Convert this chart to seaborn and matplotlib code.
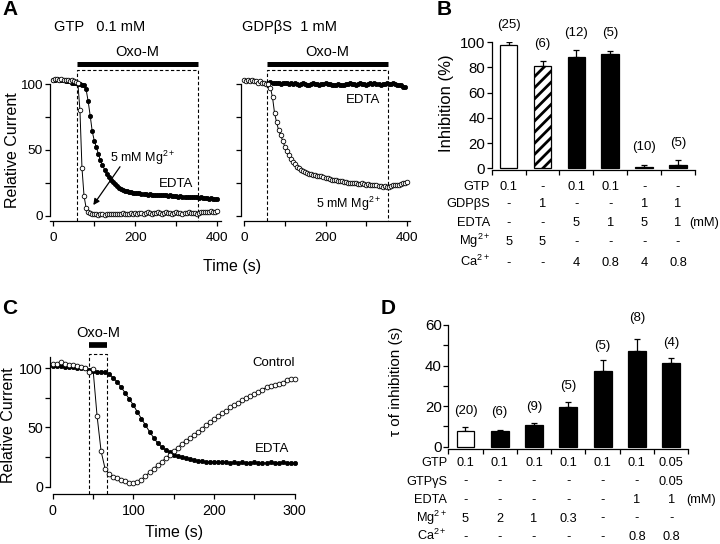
import numpy as np
import matplotlib
matplotlib.use('Agg')
import matplotlib.pyplot as plt
import matplotlib.transforms as mtransforms
import seaborn as sns

sns.set_style('ticks')
plt.rcParams['font.family'] = ['Liberation Sans', 'DejaVu Sans']
plt.rcParams['mathtext.fontset'] = 'custom'
plt.rcParams['mathtext.rm'] = 'Liberation Sans'
plt.rcParams['mathtext.it'] = 'Liberation Sans:italic'
plt.rcParams['mathtext.bf'] = 'Liberation Sans:bold'
plt.rcParams['hatch.linewidth'] = 2.0
plt.rcParams['axes.linewidth'] = 0.9
plt.rcParams['axes.edgecolor'] = 'black'
plt.rcParams['text.color'] = 'black'
plt.rcParams['xtick.color'] = 'black'
plt.rcParams['ytick.color'] = 'black'

# ---------------- data ----------------
# Panel A (time courses, relative current)
A_time = np.arange(0, 401, 5)
A_left_mg = [103, 104, 104, 103, 104, 103, 103, 103, 102, 103,
             102, 101.5, 100.5, 80, 36, 15, 6, 3, 2, 1,
             1, 1, 0.5, 1, 1, 0.5, 1, 1.5, 1, 1,
             1.5, 1, 1.5, 1, 2, 1.5, 1, 1.5, 2, 1.5,
             2, 1.5, 2, 2, 1.5, 2, 2.5, 2, 1.5, 2,
             2, 2.5, 2, 1.5, 2, 2.5, 2, 2, 1.5, 2,
             2.5, 2, 2, 1.5, 2, 2, 2.5, 2, 2, 2,
             1.5, 2, 2.5, 3, 2.5, 3, 3, 3.5, 3, 3,
             3.5]
A_left_edta = [103, 103, 104, 103, 103, 103, 102, 102, 102, 101,
               101, 100.5, 100, 100, 99.5, 99, 96, 87, 76, 64,
               57, 52, 47, 42, 38.5, 35, 32, 29.5, 27.5, 25.5,
               24, 22.5, 21, 20, 19.5, 19, 18.5, 18, 18, 17.5,
               17, 17, 17, 16.5, 16.5, 16.5, 16, 16.5, 16, 16,
               16, 15.5, 16, 15.5, 15.5, 15.5, 15, 15.5, 15, 15,
               15, 14.5, 15, 14.5, 14.5, 14.5, 14, 14.5, 14, 14,
               14, 13.5, 14, 13.5, 13.5, 13.5, 13, 13.5, 13, 13,
               12.5]
A_right_mg = [103, 102, 103, 102, 103, 102, 102, 101, 102, 101,
              101, 100, 100, 97, 90, 78, 71, 65, 61, 57,
              52.5, 49, 46, 43, 41, 39, 37, 36, 35, 34,
              33, 32.5, 32, 31.5, 31, 31, 30.5, 30, 30, 29.5,
              29, 28.5, 28, 27.5, 27, 27, 26.5, 26, 26, 25.5,
              25.5, 25, 25, 24.5, 25, 24.5, 24, 24, 24.5, 24,
              23.5, 24, 23.5, 23, 23, 23, 22.5, 22.5, 22, 22.5,
              22, 22, 22.5, 23, 23, 23.5, 23.5, 24, 24.5, 25,
              25.5]
A_right_edta_time = np.arange(60, 396, 5)
A_right_edta = [101, 101.5, 101, 100.5, 101, 100.5, 100, 100.5, 101, 100.5,
                100, 100.5, 100, 100.5, 100, 99.5, 100, 100.5, 100, 99.5,
                99.5, 100, 100.5, 100, 100, 99.5, 100, 100, 100.5, 100,
                100, 99.5, 99, 99.5, 100, 99.5, 99, 99.5, 100, 100,
                100.5, 100, 100, 99.5, 100, 100.5, 100, 100, 99.5, 100,
                100.5, 100, 100.5, 100, 100, 99.5, 100, 100, 100.5, 100,
                100, 100.5, 100, 99.5, 99.5, 99, 98, 97.5]
A_oxo = (57, 354)

# Panel B (inhibition %)
B_vals = [97.5, 81.5, 88.5, 90.5, 1, 3]
B_err = [2.5, 3.5, 5.5, 2.5, 2, 3.5]
B_n = ['(25)', '(6)', '(12)', '(5)', '(10)', '(5)']
B_n_y = [113.5, 99, 107, 107, 17, 20]
B_rows = ['GTP', 'GDPβS', 'EDTA', 'Mg$^{\\mathregular{2+}}$', 'Ca$^{\\mathregular{2+}}$']
B_table = [['0.1', '-', '0.1', '0.1', '-', '-'],
           ['-', '1', '-', '-', '1', '1'],
           ['-', '-', '5', '1', '5', '1'],
           ['5', '5', '-', '-', '-', '-'],
           ['-', '-', '4', '0.8', '4', '0.8']]

# Panel C (time course)
C_time = np.arange(0, 301, 5)
C_control = [104, 104, 105, 104, 103, 102.5, 102, 101, 100, 97,
             99.5, 60, 30, 15, 10.5, 8.5, 7.5, 6, 4.5, 3,
             3, 4, 6, 9, 12, 15, 18, 21, 24, 27,
             30, 33, 36, 39, 41, 44, 46, 49, 52, 55,
             57, 60, 62, 64, 67, 69, 71, 73, 75, 77,
             78, 80, 82, 84, 85, 86, 86.5, 88, 90, 91,
             91]
C_edta = [102, 102, 102, 101.5, 101, 101, 100.5, 100, 100, 99,
          97.5, 97, 97, 96.5, 95, 92, 88.5, 84, 79, 74,
          69, 63, 57.5, 52, 46.5, 41.5, 37, 33.5, 31, 29,
          27, 26, 25, 24, 23, 22.5, 22, 21.5, 21, 21,
          21, 20.5, 20.5, 20.5, 20, 20.5, 20, 20.5, 20, 20,
          20.5, 20, 20, 20, 20.5, 20, 20, 20.5, 20, 20,
          20]
C_oxo = (45.5, 67.5)

# Panel D (tau of inhibition)
D_vals = [7.8, 7.5, 10.5, 19.5, 37.5, 47, 41.5]
D_err = [1.8, 0.6, 1.1, 2.6, 5, 6, 2]
D_n = ['(20)', '(6)', '(9)', '(5)', '(5)', '(8)', '(4)']
D_n_y = [17.6, 17.3, 19.4, 29.9, 49.8, 63.3, 51.0]
D_rows = ['GTP', 'GTPγS', 'EDTA', 'Mg$^{\\mathregular{2+}}$', 'Ca$^{\\mathregular{2+}}$']
D_table = [['0.1', '0.1', '0.1', '0.1', '0.1', '0.1', '0.05'],
           ['-', '-', '-', '-', '-', '-', '0.05'],
           ['-', '-', '-', '-', '-', '1', '1'],
           ['5', '2', '1', '0.3', '-', '-', '-'],
           ['-', '-', '-', '-', '-', '0.8', '0.8']]

# ---------------- layout helpers ----------------
W, H = 720, 544
fig = plt.figure(figsize=(W / 100, H / 100), dpi=100)


def fx(px):
    return px / W


def fy(py):
    return 1 - py / H


def add_ax(x0, x1, yt, yb):
    ax = fig.add_axes([x0 / W, 1 - yb / H, (x1 - x0) / W, (yb - yt) / H])
    ax.set_facecolor('none')
    return ax


def style(ax, fs, xpad=4, ypad=1.5):
    sns.despine(ax=ax)
    ax.tick_params(direction='out', length=3.6, width=0.9, labelsize=fs)
    ax.tick_params(axis='x', pad=xpad)
    ax.tick_params(axis='y', pad=ypad)
    ax.set_xlabel('')
    ax.set_ylabel('')


def trace(ax, t, v, filled, ms):
    sns.lineplot(x=t, y=v, ax=ax, color='black', lw=0.7, marker='o',
                 markersize=ms, markerfacecolor='black' if filled else 'white',
                 markeredgecolor='black', markeredgewidth=0.6,
                 estimator=None, sort=False, legend=False, clip_on=False)


def oxo(ax, t0, t1, ybar, ybox, ybot, lwbar):
    ax.plot([t0, t1], [ybar, ybar], color='black', lw=lwbar,
            solid_capstyle='butt', clip_on=False)
    ax.plot([t0, t0, t1, t1], [ybot, ybox, ybox, ybot], color='black',
            lw=0.8, dashes=(3, 2), clip_on=False)


MG = '5 mM Mg$^{\\mathregular{2+}}$'

# ---------------- Panel A ----------------
axA1 = add_ax(50, 220.6, 73.5, 221)
axA2 = add_ax(240.7, 410.3, 73.5, 221)
for ax in (axA1, axA2):
    oxo(ax, A_oxo[0], A_oxo[1], 115.2, 110.8, -4, 3.6)
    ax.text(sum(A_oxo) / 2, 124.5, 'Oxo-M', ha='center', va='center', fontsize=10.5)
trace(axA1, A_time, A_left_edta, True, 3.0)
trace(axA1, A_time, A_left_mg, False, 3.3)
trace(axA2, A_right_edta_time, A_right_edta, True, 3.0)
trace(axA2, A_time, A_right_mg, False, 3.3)
for ax in (axA1, axA2):
    style(ax, 9.7)
    ax.set_xlim(-8, 408)
    ax.set_ylim(-4, 108)
    ax.set_xticks([0, 100, 200, 300, 400])
    ax.set_xticklabels(['0', '', '200', '', '400'])
    ax.set_yticks([0, 25, 50, 75, 100])
    ax.spines['left'].set_bounds(0, 100)
axA1.set_yticklabels(['0', '', '50', '', '100'])
axA2.set_yticklabels([])
axA2.spines['bottom'].set_bounds(0, 408)
axA1.annotate('', xy=(97.6, 8.1), xytext=(162.7, 37.2),
              arrowprops=dict(arrowstyle='-|>', color='black', lw=0.9,
                              mutation_scale=9, shrinkA=0, shrinkB=0))
axA1.text(138, 43.6, MG, ha='left', va='center', fontsize=9)
axA1.text(299, 23.8, 'EDTA', ha='center', va='center', fontsize=9.5)
axA2.text(291, 87.9, 'EDTA', ha='center', va='center', fontsize=9.5)
axA2.text(176.7, 8.9, MG, ha='left', va='center', fontsize=9)
fig.text(fx(54.3), fy(26.7), 'GTP   0.1 mM', ha='left', va='center', fontsize=10.5)
fig.text(fx(242.3), fy(26.7), 'GDPβS  1 mM', ha='left', va='center', fontsize=10.5)
fig.text(fx(12.5), fy(150), 'Relative Current', rotation=90, ha='center', va='center', fontsize=11.5)
fig.text(fx(231.7), fy(266), 'Time (s)', ha='center', va='center', fontsize=11.5)


# ---------------- bar panels ----------------
def bar_panel(ax, vals, errs, faces, hatches, nlabels, ny, rows, table,
              row_y, row_x, mm_x, fs_tick, fs_tab):
    n = len(vals)
    idx = np.arange(n)
    sns.barplot(x=idx, y=vals, ax=ax, color='black', saturation=1, width=0.52,
                edgecolor='black', linewidth=0.9, errorbar=None)
    for p, fc, h in zip(ax.patches, faces, hatches):
        p.set_facecolor(fc)
        p.set_edgecolor('black')
        if h:
            p.set_hatch(h)
    ax.errorbar(idx, vals, yerr=[np.zeros(n), errs], fmt='none', ecolor='black',
                elinewidth=0.9, capsize=2.4, capthick=0.9, zorder=0.5)
    for i in range(n):
        ax.text(i, ny[i], nlabels[i], ha='center', va='center', fontsize=9.5)
    style(ax, fs_tick, ypad=1.2)
    ax.set_xlim(-0.5, n - 0.5)
    ax.set_xticks(np.arange(-0.5, n, 1))
    ax.set_xticklabels([])
    trans = mtransforms.blended_transform_factory(ax.transData, fig.transFigure)
    half_cap = 0.716 * fs_tab * 100 / 72 / 2
    for r, lab in enumerate(rows):
        yb = fy(row_y[r] + half_cap)
        fig.text(fx(row_x), yb, lab, ha='right', va='baseline', fontsize=fs_tab)
        for i in range(n):
            ax.text(i, yb, table[r][i], transform=trans,
                    ha='center', va='baseline', fontsize=fs_tab)
    fig.text(fx(mm_x), fy(row_y[2] + half_cap), '(mM)', ha='left', va='baseline', fontsize=fs_tab)


axB = add_ax(491.7, 695, 42.3, 170)
bar_panel(axB, B_vals, B_err,
          ['white', 'white', 'black', 'black', 'black', 'black'],
          [None, '///', None, None, None, None],
          B_n, B_n_y, B_rows, B_table,
          [185, 202.7, 221, 240, 261.7], 490, 689.3, 10.8, 9.3)
axB.set_ylim(-1.35, 100)
axB.set_yticks([0, 20, 40, 60, 80, 100])
axB.spines['left'].set_bounds(0, 100)
fig.text(fx(446.7), fy(103.3), 'Inhibition (%)', rotation=90, ha='center', va='center', fontsize=12)

axD = add_ax(448.3, 688.3, 325, 449)
bar_panel(axD, D_vals, D_err,
          ['white'] + ['black'] * 6, [None] * 7,
          D_n, D_n_y, D_rows, D_table,
          [461.5, 480, 498.5, 517, 535.5], 447, 686, 10.8, 9.2)
axD.set_ylim(-1.13, 60)
axD.set_yticks([0, 10, 20, 30, 40, 50, 60])
axD.set_yticklabels(['0', '', '20', '', '40', '', '60'])
axD.spines['left'].set_bounds(0, 60)
fig.text(fx(396), fy(381.7), 'τ of inhibition (s)', rotation=90, ha='center', va='center', fontsize=11)

# ---------------- Panel C ----------------
axC = add_ax(50, 295, 356.5, 494)
oxo(axC, C_oxo[0], C_oxo[1], 119.4, 112, -6.2, 4.1)
axC.text(56, 130, 'Oxo-M', ha='center', va='center', fontsize=10.5)
trace(axC, C_time, C_edta, True, 3.0)
trace(axC, C_time, C_control, False, 3.4)
style(axC, 10.3, xpad=3.5)
axC.set_xlim(-3.3, 300.3)
axC.set_ylim(-6.2, 110)
axC.set_xticks([0, 50, 100, 150, 200, 250, 300])
axC.set_xticklabels(['0', '', '100', '', '200', '', '300'])
axC.set_yticks([0, 25, 50, 75, 100])
axC.set_yticklabels(['0', '', '50', '', '100'])
axC.spines['left'].set_bounds(0, 110)
axC.spines['bottom'].set_bounds(0, 300.3)
axC.text(300, 104.7, 'Control', ha='right', va='center', fontsize=9.5)
axC.text(271.7, 31.6, 'EDTA', ha='center', va='center', fontsize=9.5)
fig.text(fx(8.5), fy(425), 'Relative Current', rotation=90, ha='center', va='center', fontsize=11.5)
fig.text(fx(173.7), fy(532), 'Time (s)', ha='center', va='center', fontsize=11.5)

# ---------------- panel letters ----------------
for lab, (px, py) in {'A': (2, 9.5), 'B': (437, 9.5), 'C': (2, 309), 'D': (381, 308)}.items():
    fig.text(fx(px), fy(py), lab, ha='left', va='center', fontsize=15, fontweight='bold')

fig.savefig('out.png', dpi=100)
